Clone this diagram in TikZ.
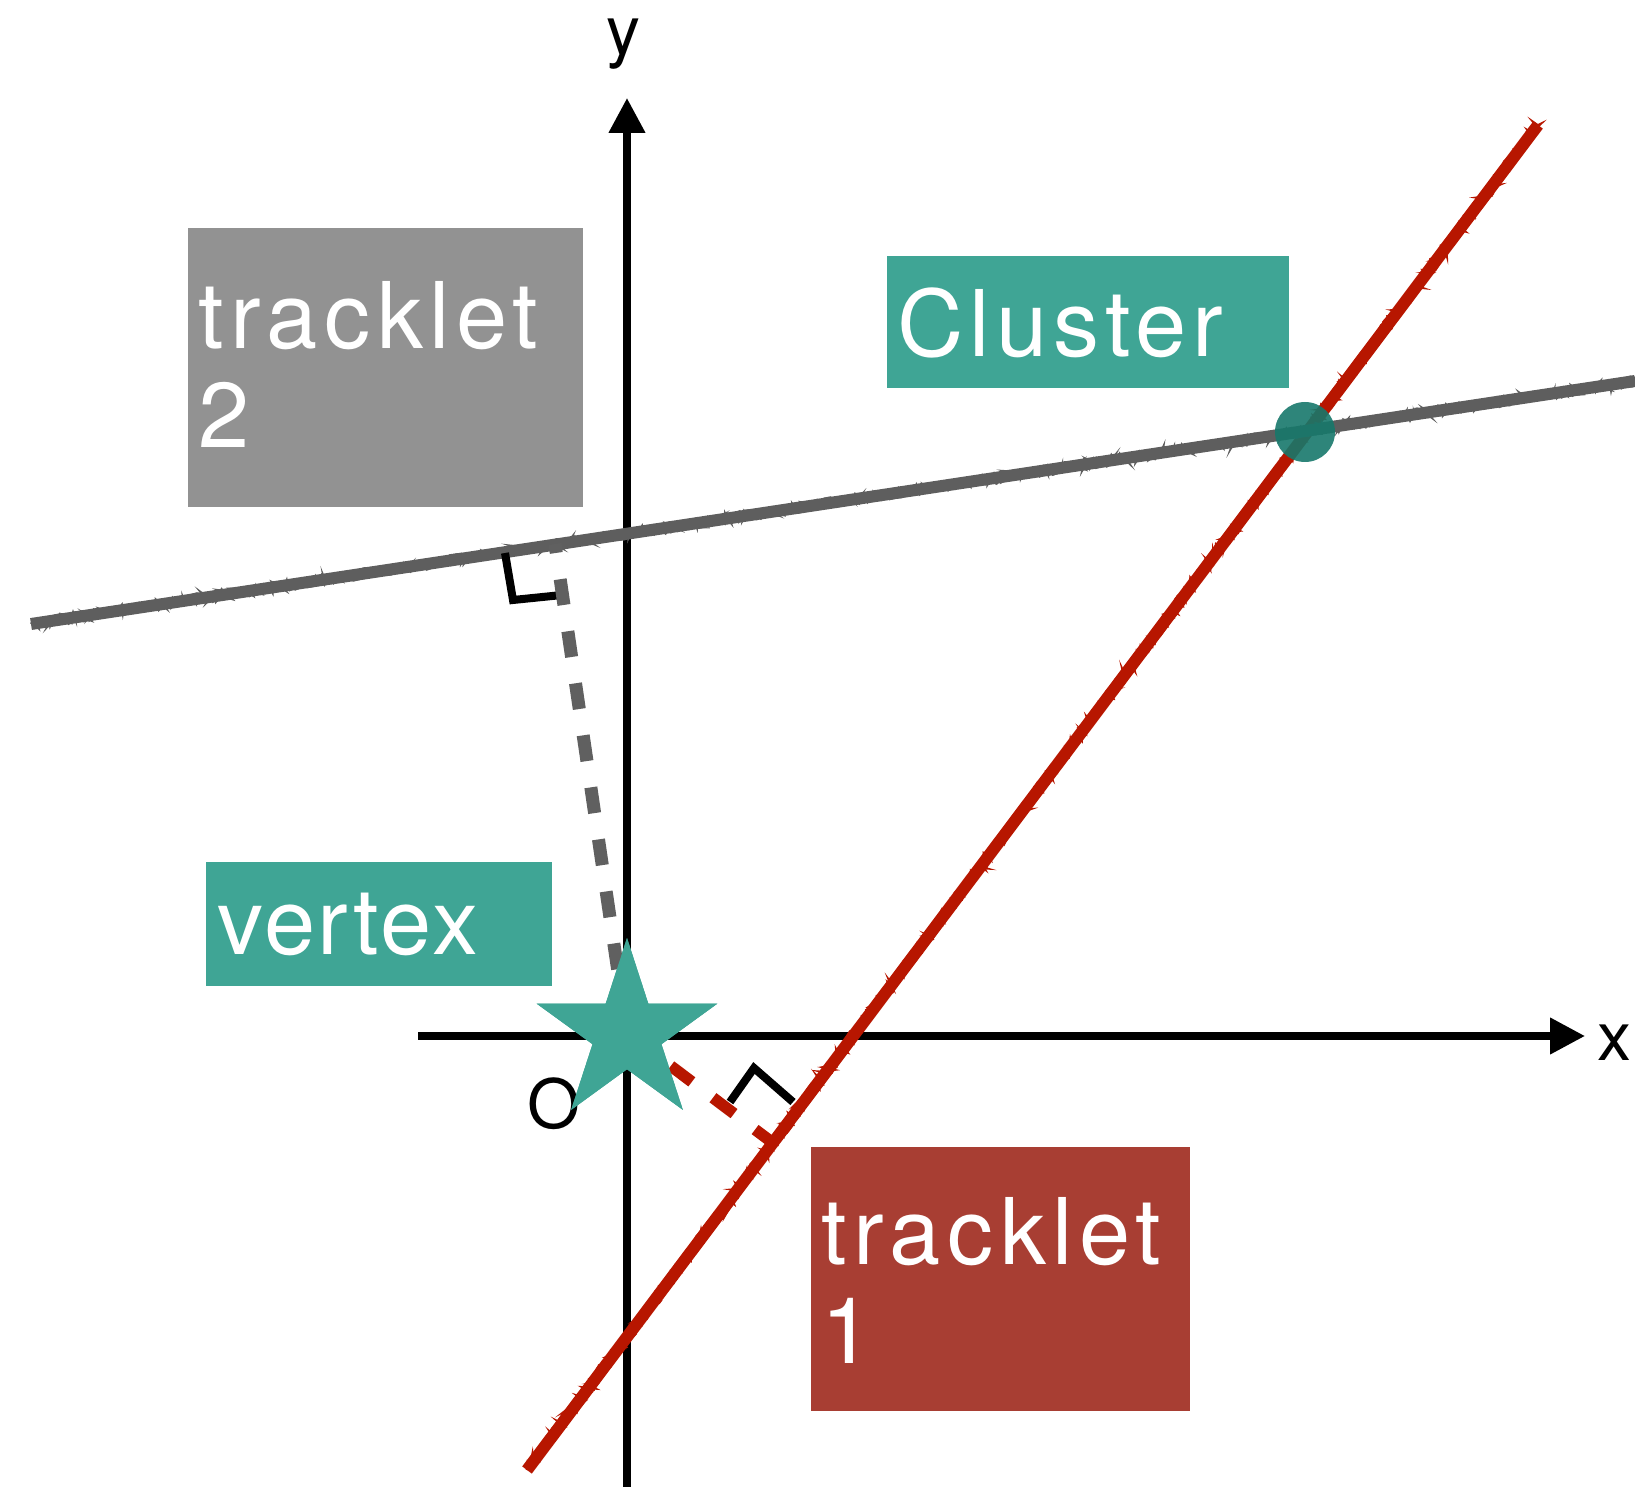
\documentclass[tikz,border=0pt]{standalone}
\usepackage{fontspec}
\setmainfont{TeX Gyre Heros}
\newfontfamily\lab{TeX Gyre Heros}
\usetikzlibrary{shapes.geometric,arrows.meta,decorations.pathmorphing}
\definecolor{teal1}{HTML}{3FA595}
\definecolor{tealdark}{HTML}{17786B}
\definecolor{graybox}{HTML}{929292}
\definecolor{redbox}{HTML}{A83E33}
\definecolor{redline}{HTML}{B71600}
\definecolor{grayline}{HTML}{5E5E5E}
\definecolor{graydash}{HTML}{606060}
\tikzset{
  axis/.style={line width=3.75pt,-{Triangle[length=17.5pt,width=17.5pt]}},
  box/.style={rectangle,inner sep=0pt,draw=none},
  boxtext/.style={text=white,inner sep=0pt,anchor=base west,font=\lab\fontsize{46}{50}\selectfont},
  axlabel/.style={inner sep=0pt,anchor=base,font=\lab\fontsize{34}{38}\selectfont},
  chalk/.style={line width=1.2pt,decorate,decoration={random steps,segment length=1.5pt,amplitude=2.6pt}},
  rightmark/.style={line width=4pt,line join=miter,black},
  vstar/.style={star,star points=5,star point ratio=2.62,minimum size=95pt,inner sep=0pt,fill=teal1},
}
\begin{document}
\begin{tikzpicture}[x=0.5pt,y=-0.5pt]
\pgfmathsetseed{7}
\useasboundingbox (0,0) rectangle (1635,1487);
% coordinates
\coordinate (xa) at (418,1036);
\coordinate (xb) at (1585,1036);
\coordinate (ya) at (627,1487);
\coordinate (yb) at (627,98);
\coordinate (r1) at (527,1470);
\coordinate (r2) at (1538,125);
\coordinate (g1) at (31,624);
\coordinate (g2) at (1635,381);
\coordinate (gfoot) at (555,544);
\coordinate (rfoot) at (773,1143);
% boxes
\node[box,fill=graybox,minimum width=197.5pt,minimum height=139.5pt,anchor=north west] (t2box) at (188,228) {};
\node[box,fill=teal1,minimum width=201pt,minimum height=66pt,anchor=north west] (clbox) at (887,256) {};
\node[box,fill=teal1,minimum width=173pt,minimum height=62pt,anchor=north west] (vxbox) at (206,862) {};
\node[box,fill=redbox,minimum width=189.5pt,minimum height=132pt,anchor=north west] (t1box) at (811,1147) {};
\node[boxtext] (t2a) at (198,349) {\addfontfeatures{LetterSpace=6.9}tracklet};
\node[boxtext] (t2b) at (198,448) {2};
\node[boxtext] (cl) at (897,357) {\addfontfeatures{LetterSpace=6.6}Cluster};
\node[boxtext] (vx) at (217,954) {\addfontfeatures{LetterSpace=2.8}vertex};
\node[boxtext] (t1a) at (821,1264) {\addfontfeatures{LetterSpace=6.9}tracklet};
\node[boxtext] (t1b) at (821,1363) {1};
% axes
\draw[axis] (xa) -- (xb);
\draw[axis] (ya) -- (yb);
\node[axlabel] (xl) at (1614,1060) {x};
\node[axlabel] (yl) at (623,55) {y};
\node[axlabel] (ol) at (554,1128) {O};
% tracklet lines
\draw[redline,line width=6pt] (r1) -- (r2);
\draw[redline,chalk] (r1) -- (r2);
\draw[redline,chalk] (r1) -- (r2);
\draw[grayline,line width=6pt] (g1) -- (g2);
\draw[grayline,chalk] (g1) -- (g2);
\draw[grayline,chalk] (g1) -- (g2);
% right angle marks
\draw[rightmark] (505,553) -- (513,600) -- (562,595);
\draw[rightmark] (730,1102) -- (754,1068) -- (793,1102);
% dashed perpendiculars, vertex star on top
\node[vstar] (v) at (627,1033) {};
\draw[graydash,line width=6.5pt,dash pattern=on 13pt off 13.3pt,dash phase=8.5pt] (gfoot) -- (v.center);
\draw[redline,line width=5.75pt,dash pattern=on 13.2pt off 13.2pt,dash phase=2pt] (rfoot) -- (v.center);
\node[vstar] (vtop) at (v.center) {};
% cluster point
\node[circle,fill=tealdark,fill opacity=0.9,minimum size=30pt,inner sep=0pt] (cp) at (1305,432) {};
\end{tikzpicture}
\end{document}
